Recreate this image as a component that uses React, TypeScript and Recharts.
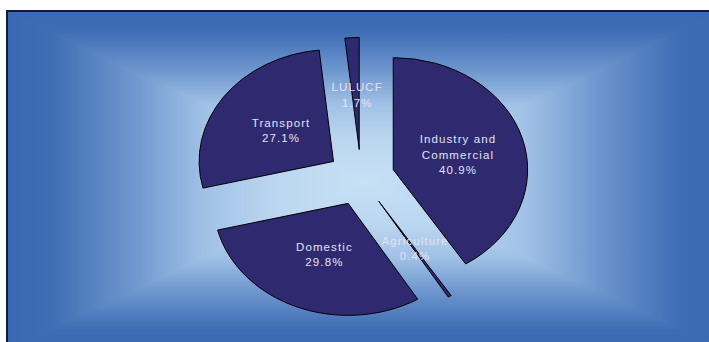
import React from 'react';
import { PieChart, Pie } from 'recharts';

// ---- data ----
const categories = ['Industry and Commercial', 'Agriculture', 'Domestic', 'Transport', 'LULUCF'];
const shares = [40.9, 0.4, 29.8, 27.1, 1.7];
const data = categories.map((name, i) => ({ name, value: shares[i] }));

// ---- layout / style ----
const W = 709;
const H = 342;
const SX = 1.2; // horizontal stretch of the pie (ellipse)
const EXPLODE_FRAC = 0.25;
const LABEL_FRAC = 0.49;
const RAD = Math.PI / 180;
const SLICE_FILL = '#2f2a6f';
const LABEL_FILL = '#e2e2f2';
const FONT = '"Liberation Sans", Arial, sans-serif';

function explodedCenter(props: any) {
  const { cx, cy, outerRadius, startAngle, endAngle } = props;
  const mid = props.midAngle !== undefined ? props.midAngle : (startAngle + endAngle) / 2;
  const m = mid * RAD;
  const e = outerRadius * EXPLODE_FRAC;
  return { ex: cx + SX * e * Math.cos(m), ey: cy - e * Math.sin(m), m };
}

const EllipseSector = (props: any) => {
  const { outerRadius: r, startAngle: a0, endAngle: a1 } = props;
  const { ex, ey } = explodedCenter(props);
  const p = (a: number) => [ex + SX * r * Math.cos(a * RAD), ey - r * Math.sin(a * RAD)];
  const [x0, y0] = p(a0);
  const [x1, y1] = p(a1);
  const large = Math.abs(a0 - a1) > 180 ? 1 : 0;
  const sweep = a1 < a0 ? 1 : 0;
  return (
    <path
      d={`M${ex},${ey}L${x0},${y0}A${SX * r},${r} 0 ${large} ${sweep} ${x1},${y1}Z`}
      fill={SLICE_FILL}
      stroke="#000"
      strokeWidth={1}
    />
  );
};

function wrap(name: string, max = 12): string[] {
  const words = name.split(' ');
  const lines: string[] = [];
  let cur = '';
  words.forEach((w) => {
    const next = cur ? cur + ' ' + w : w;
    if (next.length > max && cur) {
      lines.push(cur);
      cur = w;
    } else cur = next;
  });
  if (cur) lines.push(cur);
  return lines;
}

const makeLabel = (wantSmall: boolean) => (props: any) => {
  const value = props.value !== undefined ? props.value : props.payload?.value;
  const isSmall = value < 5;
  if (isSmall !== wantSmall) return null;
  const { ex, ey, m } = explodedCenter(props);
  const lr = props.outerRadius * LABEL_FRAC;
  const lx = ex + SX * lr * Math.cos(m) + 1.5;
  const ly = ey - lr * Math.sin(m);
  const name = props.name !== undefined ? props.name : props.payload?.name;
  const lines = [...wrap(String(name)), `${Number(value).toFixed(1)}%`];
  const lh = 15.5;
  const y0 = ly - ((lines.length - 1) * lh) / 2 + 4.5;
  return (
    <text
      key={`lbl-${name}`}
      textAnchor="middle"
      fill={LABEL_FILL}
      fontSize={11.5}
      fontFamily={FONT}
      letterSpacing={1.1}
    >
      {lines.map((t, i) => (
        <tspan key={i} x={lx} y={y0 + i * lh}>
          {t}
        </tspan>
      ))}
    </text>
  );
};

// background panel geometry (decoration)
const L = 6, T = 10, R = 724, B = 350, GX = 365, GY = 182;
const stops: [number, string][] = [
  [0, '#3a68b2'],
  [0.12, '#3e6cb4'],
  [0.35, '#6e96ce'],
  [0.55, '#a0c1e6'],
  [0.75, '#bbd6f0'],
  [1, '#c6e0f5'],
];
const Stops = ({ mirror }: { mirror?: boolean }) => (
  <>
    {stops.map(([o, c], i) => (
      <stop key={'a' + i} offset={mirror ? o / 2 : o} stopColor={c} />
    ))}
    {mirror &&
      stops
        .slice()
        .reverse()
        .map(([o, c], i) => <stop key={'b' + i} offset={1 - o / 2} stopColor={c} />)}
  </>
);

const Background = () => (
  <svg width={W} height={H} style={{ position: 'absolute', left: 0, top: 0 }}>
    <defs>
      <linearGradient id="gH" gradientUnits="userSpaceOnUse" x1={L} y1={0} x2={R} y2={0}>
        <Stops mirror />
      </linearGradient>
      <linearGradient id="gT" gradientUnits="userSpaceOnUse" x1={0} y1={T} x2={0} y2={GY}>
        <Stops />
      </linearGradient>
      <linearGradient id="gB" gradientUnits="userSpaceOnUse" x1={0} y1={B} x2={0} y2={GY}>
        <Stops />
      </linearGradient>
    </defs>
    <rect x={0} y={0} width={W} height={H} fill="#ffffff" />
    <rect x={L} y={T} width={R - L} height={B - T} fill="url(#gH)" />
    <polygon points={`${L},${T} ${R},${T} ${GX},${GY}`} fill="url(#gT)" />
    <polygon points={`${L},${B} ${R},${B} ${GX},${GY}`} fill="url(#gB)" />
    <rect x={7} y={11} width={R} height={B} fill="none" stroke="#101c36" strokeWidth={2} />
  </svg>
);

export default function App() {
  return (
    <div style={{ position: 'absolute', left: 0, top: 0, width: W, height: H }}>
      <Background />
      <div style={{ position: 'absolute', left: 0, top: 0 }}>
        <PieChart width={W} height={H} margin={{ top: 0, right: 0, bottom: 0, left: 0 }}>
          <Pie
            data={data}
            dataKey="value"
            nameKey="name"
            cx={361}
            cy={177.5}
            outerRadius={112}
            startAngle={90}
            endAngle={-270}
            fill="none"
            stroke="none"
            label={makeLabel(true)}
            labelLine={false}
            isAnimationActive={false}
          />
          <Pie
            data={data}
            dataKey="value"
            nameKey="name"
            cx={361}
            cy={177.5}
            outerRadius={112}
            startAngle={90}
            endAngle={-270}
            fill={SLICE_FILL}
            stroke="#000"
            shape={EllipseSector}
            activeShape={EllipseSector}
            inactiveShape={EllipseSector}
            label={makeLabel(false)}
            labelLine={false}
            isAnimationActive={false}
          />
        </PieChart>
      </div>
    </div>
  );
}
